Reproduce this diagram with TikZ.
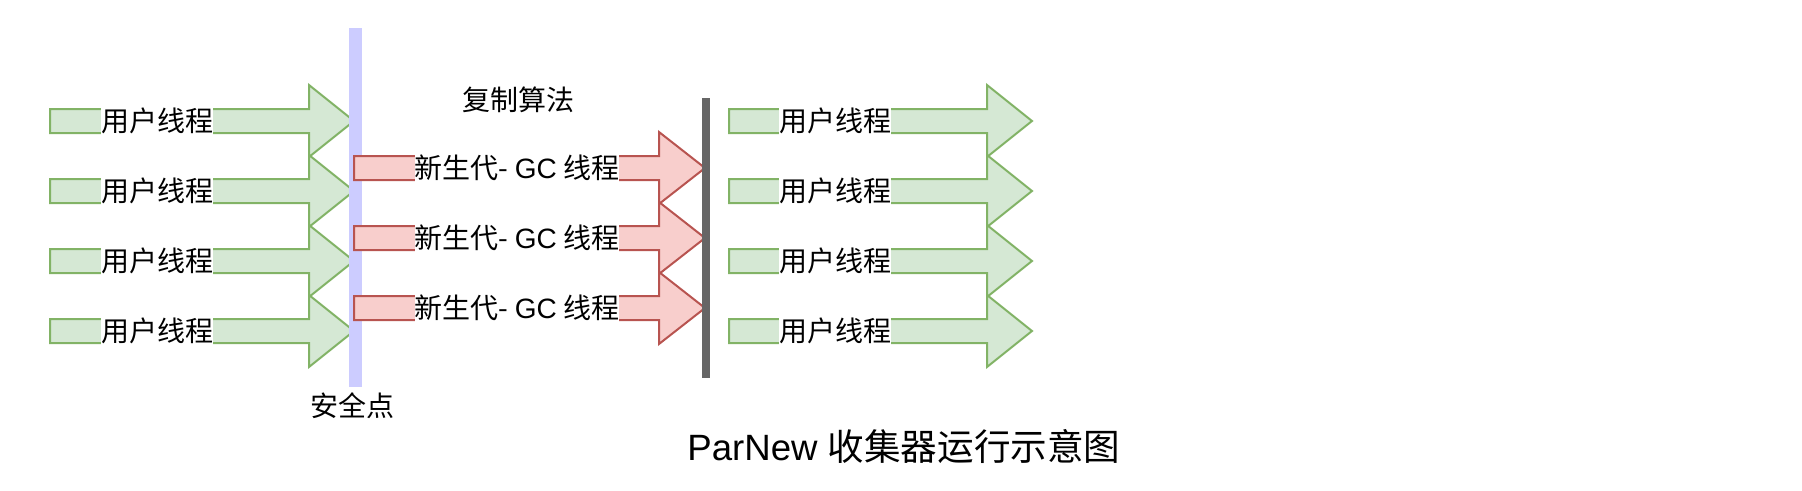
\documentclass[tikz,border=0pt]{standalone}
\usepackage{fontspec}
\newfontfamily\cjk{Noto Sans CJK SC}
\newfontfamily\lat{Liberation Sans}
\definecolor{gfill}{HTML}{D5E8D4}
\definecolor{gline}{HTML}{82B366}
\definecolor{rfill}{HTML}{F8CECC}
\definecolor{rline}{HTML}{B85450}
\definecolor{safeblue}{HTML}{CCCCFF}
\definecolor{bargray}{HTML}{666666}
\newcommand\fatarr[6]{% name, style, x0, xbase, xtip, y
  \coordinate (#1s) at ({#3},{#6});
  \coordinate (#1t) at ({#5},{#6});
  \draw[#2] ({#3},{#6-12}) -- ({#4},{#6-12}) -- ({#4},{#6-36}) -- (#1t)
    -- ({#4},{#6+36}) -- ({#4},{#6+12}) -- ({#3},{#6+12}) -- cycle;}
\begin{document}
\begin{tikzpicture}[x=1pt,y=-1pt,
  garrow/.style={fill=gfill,draw=gline,line width=2pt,line join=miter},
  rarrow/.style={fill=rfill,draw=rline,line width=2pt,line join=miter},
  lbl/.style={fill=white,inner xsep=0pt,inner ysep=1pt,font=\cjk\fontsize{28}{32}\selectfont},
  plain/.style={inner sep=0pt,font=\cjk\fontsize{28}{32}\selectfont}]
\useasboundingbox (0,0) rectangle (1802,490);
% left user threads
\foreach \i/\y in {1/121,2/191,3/261,4/331}{
  \fatarr{L\i}{garrow}{50}{309}{354}{\y}
  \node[lbl] (lt\i) at (157,\y) {用户线程};
}
% safe point line
\coordinate (sp1) at (355,28);
\coordinate (sp2) at (355,387);
\draw[safeblue,line width=13pt] (sp1) -- (sp2);
\node[plain] (safe) at (352,406) {安全点};
% GC threads
\node[plain] (copy) at (518,100) {复制算法};
\foreach \i/\y in {1/168,2/238,3/308}{
  \fatarr{R\i}{rarrow}{354}{659}{705}{\y}
  \node[lbl] (rt\i) at (517,\y) {新生代- {\lat GC} 线程};
}
% end of GC bar
\coordinate (gb1) at (706,98);
\coordinate (gb2) at (706,378);
\draw[bargray,line width=8pt] (gb1) -- (gb2);
% right user threads
\foreach \i/\y in {1/121,2/191,3/261,4/331}{
  \fatarr{G\i}{garrow}{729}{987}{1032}{\y}
  \node[lbl] (rtx\i) at (835,\y) {用户线程};
}
\node[inner sep=0pt,font=\fontsize{36.6}{40}\selectfont] (title) at (904,446) {{\lat ParNew }{\cjk 收集器运行示意图}};
\end{tikzpicture}
\end{document}
